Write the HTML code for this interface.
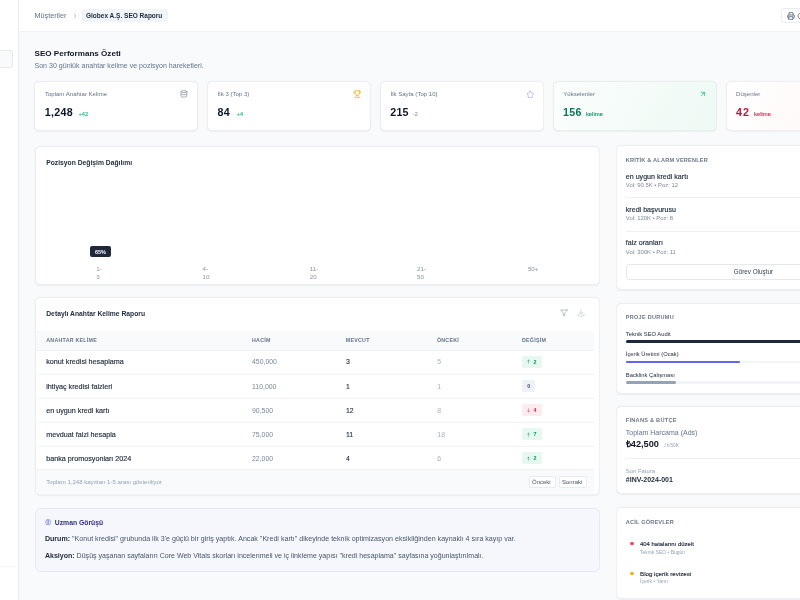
<!DOCTYPE html>
<html lang="tr"><head><meta charset="utf-8"><title>SEO Performans Özeti</title>
<style>
html,body{margin:0;padding:0}
body{width:800px;height:600px;overflow:hidden;position:relative;background:#f8fafc;font-family:"Liberation Sans",Arial,sans-serif;}
.t{position:absolute;white-space:nowrap;line-height:1;}
.b{position:absolute;}
.tx{position:absolute;left:0;top:0;width:800px;height:600px;will-change:transform;}
</style></head><body>
<div class="b" style="left:0px;top:0px;width:18px;height:600px;background:#fff;"></div>
<div class="b" style="left:18px;top:0px;width:1px;height:600px;background:#e8ecf1;"></div>
<div class="b" style="left:-10px;top:50.3px;width:22.5px;height:18.2px;background:#f8fafc;border:1px solid #e5e9ef;border-radius:3px;box-sizing:border-box;"></div>
<div class="b" style="left:0px;top:566px;width:16px;height:1px;background:#f1f4f7;"></div>
<div class="b" style="left:19px;top:0px;width:781px;height:30.5px;background:#fff;"></div>
<div class="b" style="left:19px;top:30.5px;width:781px;height:0.6px;background:#f0f2f5;"></div>
<svg class="b" style="left:72.5px;top:13px" width="4" height="6" viewBox="0 0 4 6"><path d="M1 0.8 L3 3 L1 5.2" fill="none" stroke="#a3adbb" stroke-width="0.75"/></svg>
<div class="b" style="left:82px;top:9px;width:85.6px;height:12.6px;background:#f1f5f9;border-radius:3px;"></div>
<div class="b" style="left:781.3px;top:8px;width:30px;height:14.7px;background:#fff;border:1px solid #e8ebef;border-radius:3px;box-sizing:border-box;"></div>
<svg class="b" style="left:786.5px;top:11.8px" width="8" height="8" viewBox="0 0 24 24" fill="none" stroke="#475569" stroke-width="2.2" stroke-linecap="round" stroke-linejoin="round"><path d="M6 9V2h12v7"/><path d="M6 18H4a2 2 0 0 1-2-2v-5a2 2 0 0 1 2-2h16a2 2 0 0 1 2 2v5a2 2 0 0 1-2 2h-2"/><rect x="6" y="14" width="12" height="8"/></svg>
<svg class="b" style="left:797px;top:11.8px" width="8" height="8" viewBox="0 0 24 24" fill="none" stroke="#475569" stroke-width="2.2" stroke-linecap="round" stroke-linejoin="round"><path d="M21 12a9 9 0 1 1-3-6.7"/></svg>
<div class="b" style="left:34.4px;top:80.6px;width:164px;height:50px;background:#fff;border:1px solid #eceef2;border-radius:5px;box-shadow:0 0.5px 1.5px rgba(15,23,42,0.05);box-sizing:border-box;background:#fff;border-color:#eceef2;"></div>
<div class="b" style="left:207.20000000000002px;top:80.6px;width:164px;height:50px;background:#fff;border:1px solid #eceef2;border-radius:5px;box-shadow:0 0.5px 1.5px rgba(15,23,42,0.05);box-sizing:border-box;background:#fff;border-color:#eceef2;"></div>
<div class="b" style="left:380.0px;top:80.6px;width:164px;height:50px;background:#fff;border:1px solid #eceef2;border-radius:5px;box-shadow:0 0.5px 1.5px rgba(15,23,42,0.05);box-sizing:border-box;background:#fff;border-color:#eceef2;"></div>
<div class="b" style="left:552.8000000000001px;top:80.6px;width:164px;height:50px;background:#fff;border:1px solid #eceef2;border-radius:5px;box-shadow:0 0.5px 1.5px rgba(15,23,42,0.05);box-sizing:border-box;background:linear-gradient(120deg,#fbfefd 0%,#eef9f4 100%);border-color:#e7eeeb;"></div>
<div class="b" style="left:725.6px;top:80.6px;width:164px;height:50px;background:#fff;border:1px solid #eceef2;border-radius:5px;box-shadow:0 0.5px 1.5px rgba(15,23,42,0.05);box-sizing:border-box;background:linear-gradient(120deg,#ffffff 0%,#fff4f5 100%);border-color:#f0eef0;"></div>
<svg class="b" style="left:180.3px;top:89.9px" width="7.8" height="7.8" viewBox="0 0 24 24" fill="none" stroke="#7d8798" stroke-width="2" stroke-linecap="round" stroke-linejoin="round"><ellipse cx="12" cy="5" rx="9" ry="3"/><path d="M3 5v14a9 3 0 0 0 18 0V5"/><path d="M3 12a9 3 0 0 0 18 0"/></svg>
<svg class="b" style="left:353px;top:89.6px" width="8.5" height="8.5" viewBox="0 0 24 24" fill="none" stroke="#eab308" stroke-width="1.9" stroke-linecap="round" stroke-linejoin="round"><path d="M6 9H4.5a2.5 2.5 0 0 1 0-5H6"/><path d="M18 9h1.5a2.5 2.5 0 0 0 0-5H18"/><path d="M4 22h16"/><path d="M10 14.66V17c0 .55-.47.98-.97 1.21C7.85 18.75 7 20.24 7 22"/><path d="M14 14.66V17c0 .55.47.98.97 1.21C16.15 18.75 17 20.24 17 22"/><path d="M18 2H6v7a6 6 0 0 0 12 0V2Z"/></svg>
<svg class="b" style="left:526px;top:90px" width="8.5" height="8.5" viewBox="0 0 24 24" fill="none" stroke="#9ea3ea" stroke-width="1.8" stroke-linecap="round" stroke-linejoin="round"><path d="M12 2.5 L15 8 L21 9.5 L18 15.5 L18 21 H6 L6 15.5 L3 9.5 L9 8 Z"/></svg>
<svg class="b" style="left:699.2px;top:90.1px" width="8" height="8" viewBox="0 0 24 24" fill="none" stroke="#10b981" stroke-width="2.2" stroke-linecap="round" stroke-linejoin="round"><path d="M7 17 17 7"/><path d="M7 7h10v10"/></svg>
<div class="b" style="left:34.5px;top:145.5px;width:565px;height:139.5px;background:#fff;border:1px solid #eceef2;border-radius:5px;box-shadow:0 0.5px 1.5px rgba(15,23,42,0.05);box-sizing:border-box;"></div>
<div class="b" style="left:90.1px;top:246px;width:20.8px;height:10.5px;background:#1e293b;border-radius:2px;"></div>
<div class="b" style="left:34.5px;top:296.5px;width:565px;height:198px;background:#fff;border:1px solid #eceef2;border-radius:5px;box-shadow:0 0.5px 1.5px rgba(15,23,42,0.05);box-sizing:border-box;overflow:hidden;"></div>
<svg class="b" style="left:559.5px;top:308.5px" width="8" height="8" viewBox="0 0 24 24" fill="none" stroke="#94a3b8" stroke-width="2" stroke-linecap="round" stroke-linejoin="round"><path d="M22 3H2l8 9.46V19l4 2v-8.54L22 3z"/></svg>
<svg class="b" style="left:577px;top:308.5px" width="8" height="8" viewBox="0 0 24 24" fill="none" stroke="#b8c2cf" stroke-width="2" stroke-linecap="round" stroke-linejoin="round"><path d="M21 15v4a2 2 0 0 1-2 2H5a2 2 0 0 1-2-2v-4"/><path d="M7 10l5 5 5-5"/><path d="M12 15V3"/></svg>
<div class="b" style="left:35.5px;top:330.5px;width:558.5px;height:19.5px;background:#f8fafc;"></div>
<div class="b" style="left:35.5px;top:350px;width:558.5px;height:0.8px;background:#eef1f5;"></div>
<div class="b" style="left:521.8px;top:356.1px;width:20.2px;height:11.6px;background:#e6f8ef;border-radius:2px;"></div>
<svg class="b" style="left:526.3px;top:359.40px;" width="5" height="5" viewBox="0 0 24 24" fill="none" stroke="#059669" stroke-width="2.1" stroke-linecap="round" stroke-linejoin="round"><path d="M12 20V5"/><path d="M6 11l6-6 6 6"/></svg>
<div class="b" style="left:35.5px;top:374.05px;width:558.5px;height:0.7px;background:#f0f3f6;"></div>
<div class="b" style="left:521.8px;top:380.15000000000003px;width:12.8px;height:11.6px;background:#eef1f5;border-radius:2px;"></div>
<div class="b" style="left:35.5px;top:398.1px;width:558.5px;height:0.7px;background:#f0f3f6;"></div>
<div class="b" style="left:521.8px;top:404.20000000000005px;width:20.2px;height:11.6px;background:#fdecee;border-radius:2px;"></div>
<svg class="b" style="left:526.3px;top:407.50px;transform:rotate(180deg);" width="5" height="5" viewBox="0 0 24 24" fill="none" stroke="#e11d48" stroke-width="2.1" stroke-linecap="round" stroke-linejoin="round"><path d="M12 20V5"/><path d="M6 11l6-6 6 6"/></svg>
<div class="b" style="left:35.5px;top:422.15px;width:558.5px;height:0.7px;background:#f0f3f6;"></div>
<div class="b" style="left:521.8px;top:428.25px;width:20.2px;height:11.6px;background:#e6f8ef;border-radius:2px;"></div>
<svg class="b" style="left:526.3px;top:431.55px;" width="5" height="5" viewBox="0 0 24 24" fill="none" stroke="#059669" stroke-width="2.1" stroke-linecap="round" stroke-linejoin="round"><path d="M12 20V5"/><path d="M6 11l6-6 6 6"/></svg>
<div class="b" style="left:35.5px;top:446.2px;width:558.5px;height:0.7px;background:#f0f3f6;"></div>
<div class="b" style="left:521.8px;top:452.3px;width:20.2px;height:11.6px;background:#e6f8ef;border-radius:2px;"></div>
<svg class="b" style="left:526.3px;top:455.60px;" width="5" height="5" viewBox="0 0 24 24" fill="none" stroke="#059669" stroke-width="2.1" stroke-linecap="round" stroke-linejoin="round"><path d="M12 20V5"/><path d="M6 11l6-6 6 6"/></svg>
<div class="b" style="left:35.5px;top:469.4px;width:558.5px;height:24px;background:#f8fafc;"></div>
<div class="b" style="left:35.5px;top:469.4px;width:558.5px;height:0.8px;background:#eef1f5;"></div>
<div class="b" style="left:528.5px;top:476.2px;width:27px;height:11.8px;background:#fff;border:1px solid #e8ebef;border-radius:2px;box-sizing:border-box;"></div>
<div class="b" style="left:558.5px;top:476.2px;width:28.4px;height:11.8px;background:#fff;border:1px solid #e8ebef;border-radius:2px;box-sizing:border-box;"></div>
<div class="b" style="left:34.5px;top:507.5px;width:565px;height:64px;background:#f5f7fd;border:1px solid #e4e9f5;border-radius:6px;box-sizing:border-box;"></div>
<svg class="b" style="left:44.8px;top:519.4px" width="6.2" height="6.2" viewBox="0 0 24 24" fill="none" stroke="#6366f1" stroke-width="2.4" stroke-linecap="round" stroke-linejoin="round"><path d="M12 5a3 3 0 1 0-5.997.125 4 4 0 0 0-2.526 5.77 4 4 0 0 0 .556 6.588A4 4 0 1 0 12 18Z"/><path d="M12 5a3 3 0 1 1 5.997.125 4 4 0 0 1 2.526 5.77 4 4 0 0 1-.556 6.588A4 4 0 1 1 12 18Z"/></svg>
<div class="b" style="left:615.8px;top:145.4px;width:273.5px;height:144.5px;background:#fff;border:1px solid #eceef2;border-radius:5px;box-shadow:0 0.5px 1.5px rgba(15,23,42,0.05);box-sizing:border-box;"></div>
<div class="b" style="left:625.8px;top:197.4px;width:253.5px;height:0.8px;background:#eef1f5;"></div>
<div class="b" style="left:625.8px;top:230.60000000000002px;width:253.5px;height:0.8px;background:#eef1f5;"></div>
<div class="b" style="left:626.4px;top:264.2px;width:252.5px;height:16.3px;background:#fff;border:1px solid #e6e8ec;border-radius:3px;box-sizing:border-box;"></div>
<div class="b" style="left:615.8px;top:302.6px;width:273.5px;height:91.4px;background:#fff;border:1px solid #eceef2;border-radius:5px;box-shadow:0 0.5px 1.5px rgba(15,23,42,0.05);box-sizing:border-box;"></div>
<div class="b" style="left:625.8px;top:340.3px;width:253.5px;height:2.5px;background:#f1f5f9;border-radius:2px;"></div>
<div class="b" style="left:625.8px;top:340.3px;width:253.5px;height:2.5px;background:#1e293b;border-radius:2px;"></div>
<div class="b" style="left:625.8px;top:360.8px;width:253.5px;height:2.5px;background:#f1f5f9;border-radius:2px;"></div>
<div class="b" style="left:625.8px;top:360.8px;width:114.075px;height:2.5px;background:#6366f1;border-radius:2px;"></div>
<div class="b" style="left:625.8px;top:381.3px;width:253.5px;height:2.5px;background:#f1f5f9;border-radius:2px;"></div>
<div class="b" style="left:625.8px;top:381.3px;width:50.7px;height:2.5px;background:#94a3b8;border-radius:2px;"></div>
<div class="b" style="left:615.8px;top:405.5px;width:273.5px;height:88.75px;background:#fff;border:1px solid #eceef2;border-radius:5px;box-shadow:0 0.5px 1.5px rgba(15,23,42,0.05);box-sizing:border-box;"></div>
<div class="b" style="left:625.8px;top:458px;width:253.5px;height:0.8px;background:#eef1f5;"></div>
<div class="b" style="left:615.8px;top:506.5px;width:273.5px;height:92px;background:#fff;border:1px solid #eceef2;border-radius:5px;box-shadow:0 0.5px 1.5px rgba(15,23,42,0.05);box-sizing:border-box;"></div>
<div class="b" style="left:630px;top:541.8px;width:3.6px;height:3.6px;background:#f43f5e;border-radius:50%;"></div>
<div class="b" style="left:630px;top:571.5px;width:3.6px;height:3.6px;background:#eab308;border-radius:50%;"></div>
<div class="tx">
<span class="t" style="left:34.40px;top:12px;font-size:7.3px;font-weight:400;color:#64748b;">Müşteriler</span>
<span class="t" style="left:86.00px;top:13px;font-size:6.5px;font-weight:700;color:#1e293b;">Globex A.Ş. SEO Raporu</span>
<span class="t" style="left:34.50px;top:50px;font-size:8.1px;font-weight:700;color:#0f172a;">SEO Performans Özeti</span>
<span class="t" style="left:34.50px;top:62px;font-size:7.05px;font-weight:400;color:#64748b;">Son 30 günlük anahtar kelime ve pozisyon hareketleri.</span>
<span class="t" style="left:44.90px;top:91px;font-size:6.05px;font-weight:400;color:#64748b;">Toplam Anahtar Kelime</span>
<span class="t" style="left:44.70px;top:107px;font-size:10.7px;font-weight:700;color:#0f172a;letter-spacing:0.3px;">1,248</span>
<span class="t" style="left:78.60px;top:112px;font-size:5.6px;font-weight:400;color:#10b981;-webkit-text-stroke:0.12px #10b981;">+42</span>
<span class="t" style="left:217.70px;top:91px;font-size:6.05px;font-weight:400;color:#64748b;">İlk 3 (Top 3)</span>
<span class="t" style="left:217.50px;top:107px;font-size:10.7px;font-weight:700;color:#0f172a;letter-spacing:0.4px;">84</span>
<span class="t" style="left:236.80px;top:112px;font-size:5.6px;font-weight:400;color:#10b981;-webkit-text-stroke:0.12px #10b981;">+4</span>
<span class="t" style="left:390.50px;top:91px;font-size:6.05px;font-weight:400;color:#64748b;">İlk Sayfa (Top 10)</span>
<span class="t" style="left:390.30px;top:107px;font-size:10.7px;font-weight:700;color:#0f172a;letter-spacing:0.2px;">215</span>
<span class="t" style="left:412.80px;top:112px;font-size:5.6px;font-weight:400;color:#94a3b8;-webkit-text-stroke:0.12px #94a3b8;">-2</span>
<span class="t" style="left:563.30px;top:91px;font-size:6.05px;font-weight:400;color:#64748b;">Yükselenler</span>
<span class="t" style="left:563.10px;top:107px;font-size:10.7px;font-weight:700;color:#047857;letter-spacing:0.2px;">156</span>
<span class="t" style="left:585.90px;top:112px;font-size:5.9px;font-weight:400;color:#059669;-webkit-text-stroke:0.12px #059669;">kelime</span>
<span class="t" style="left:736.10px;top:91px;font-size:6.05px;font-weight:400;color:#64748b;">Düşenler</span>
<span class="t" style="left:735.90px;top:107px;font-size:10.7px;font-weight:700;color:#be123c;letter-spacing:1.2px;">42</span>
<span class="t" style="left:754.00px;top:112px;font-size:5.9px;font-weight:400;color:#e11d48;-webkit-text-stroke:0.12px #e11d48;">kelime</span>
<span class="t" style="left:46.20px;top:160px;font-size:6.75px;font-weight:700;color:#1e293b;">Pozisyon Değişim Dağılımı</span>
<span class="t" style="left:95.10px;top:250px;font-size:5.4px;font-weight:700;color:#fff;">65%</span>
<span class="t" style="left:96.25px;top:266px;font-size:6.2px;font-weight:400;color:#8794a7;">1-</span>
<span class="t" style="left:96.25px;top:274px;font-size:6.2px;font-weight:400;color:#8794a7;">3</span>
<span class="t" style="left:202.50px;top:266px;font-size:6.2px;font-weight:400;color:#8794a7;">4-</span>
<span class="t" style="left:202.50px;top:274px;font-size:6.2px;font-weight:400;color:#8794a7;">10</span>
<span class="t" style="left:309.75px;top:266px;font-size:6.2px;font-weight:400;color:#8794a7;">11-</span>
<span class="t" style="left:309.75px;top:274px;font-size:6.2px;font-weight:400;color:#8794a7;">20</span>
<span class="t" style="left:417.00px;top:266px;font-size:6.2px;font-weight:400;color:#8794a7;">21-</span>
<span class="t" style="left:417.00px;top:274px;font-size:6.2px;font-weight:400;color:#8794a7;">50</span>
<span class="t" style="left:527.90px;top:266px;font-size:6.2px;font-weight:400;color:#8794a7;">50+</span>
<span class="t" style="left:46.25px;top:311px;font-size:6.75px;font-weight:700;color:#1e293b;">Detaylı Anahtar Kelime Raporu</span>
<span class="t" style="left:46.25px;top:338px;font-size:5.3px;font-weight:700;color:#64748b;letter-spacing:0.25px;">ANAHTAR KELİME</span>
<span class="t" style="left:252.00px;top:338px;font-size:5.3px;font-weight:700;color:#64748b;letter-spacing:0.25px;">HACİM</span>
<span class="t" style="left:345.75px;top:338px;font-size:5.3px;font-weight:700;color:#64748b;letter-spacing:0.25px;">MEVCUT</span>
<span class="t" style="left:436.90px;top:338px;font-size:5.3px;font-weight:700;color:#64748b;letter-spacing:0.25px;">ÖNCEKİ</span>
<span class="t" style="left:522.00px;top:338px;font-size:5.3px;font-weight:700;color:#64748b;letter-spacing:0.25px;">DEĞİŞİM</span>
<span class="t" style="left:46.25px;top:358px;font-size:7.2px;font-weight:400;color:#1e293b;-webkit-text-stroke:0.15px #1e293b;">konut kredisi hesaplama</span>
<span class="t" style="left:252.00px;top:359px;font-size:6.9px;font-weight:400;color:#7a879a;">450,000</span>
<span class="t" style="left:346.00px;top:359px;font-size:6.9px;font-weight:400;color:#1e293b;-webkit-text-stroke:0.12px #1e293b;">3</span>
<span class="t" style="left:437.30px;top:359px;font-size:6.9px;font-weight:400;color:#a7b1bf;">5</span>
<span class="t" style="left:533.60px;top:360px;font-size:5.4px;font-weight:700;color:#059669;">2</span>
<span class="t" style="left:46.25px;top:383px;font-size:7.2px;font-weight:400;color:#1e293b;-webkit-text-stroke:0.15px #1e293b;">ihtiyaç kredisi faizleri</span>
<span class="t" style="left:252.00px;top:384px;font-size:6.9px;font-weight:400;color:#7a879a;">110,000</span>
<span class="t" style="left:346.00px;top:384px;font-size:6.9px;font-weight:400;color:#1e293b;-webkit-text-stroke:0.12px #1e293b;">1</span>
<span class="t" style="left:437.30px;top:384px;font-size:6.9px;font-weight:400;color:#a7b1bf;">1</span>
<span class="t" style="left:527.30px;top:384px;font-size:5.4px;font-weight:700;color:#475569;">0</span>
<span class="t" style="left:46.25px;top:407px;font-size:7.2px;font-weight:400;color:#1e293b;-webkit-text-stroke:0.15px #1e293b;">en uygun kredi kartı</span>
<span class="t" style="left:252.00px;top:408px;font-size:6.9px;font-weight:400;color:#7a879a;">90,500</span>
<span class="t" style="left:346.00px;top:408px;font-size:6.9px;font-weight:400;color:#1e293b;-webkit-text-stroke:0.12px #1e293b;">12</span>
<span class="t" style="left:437.30px;top:408px;font-size:6.9px;font-weight:400;color:#a7b1bf;">8</span>
<span class="t" style="left:533.60px;top:408px;font-size:5.4px;font-weight:700;color:#e11d48;">4</span>
<span class="t" style="left:46.25px;top:431px;font-size:7.2px;font-weight:400;color:#1e293b;-webkit-text-stroke:0.15px #1e293b;">mevduat faizi hesapla</span>
<span class="t" style="left:252.00px;top:432px;font-size:6.9px;font-weight:400;color:#7a879a;">75,000</span>
<span class="t" style="left:346.00px;top:432px;font-size:6.9px;font-weight:400;color:#1e293b;-webkit-text-stroke:0.12px #1e293b;">11</span>
<span class="t" style="left:437.30px;top:432px;font-size:6.9px;font-weight:400;color:#a7b1bf;">18</span>
<span class="t" style="left:533.60px;top:432px;font-size:5.4px;font-weight:700;color:#059669;">7</span>
<span class="t" style="left:46.25px;top:455px;font-size:7.2px;font-weight:400;color:#1e293b;-webkit-text-stroke:0.15px #1e293b;">banka promosyonları 2024</span>
<span class="t" style="left:252.00px;top:456px;font-size:6.9px;font-weight:400;color:#7a879a;">22,000</span>
<span class="t" style="left:346.00px;top:456px;font-size:6.9px;font-weight:400;color:#1e293b;-webkit-text-stroke:0.12px #1e293b;">4</span>
<span class="t" style="left:437.30px;top:456px;font-size:6.9px;font-weight:400;color:#a7b1bf;">6</span>
<span class="t" style="left:533.60px;top:456px;font-size:5.4px;font-weight:700;color:#059669;">2</span>
<span class="t" style="left:46.25px;top:479px;font-size:6.05px;font-weight:400;color:#94a3b8;">Toplam 1,248 kayıttan 1-5 arası gösteriliyor</span>
<span class="t" style="left:532.00px;top:479px;font-size:6.0px;font-weight:400;color:#475569;">Önceki</span>
<span class="t" style="left:562.00px;top:479px;font-size:6.0px;font-weight:400;color:#475569;">Sonraki</span>
<span class="t" style="left:54.80px;top:520px;font-size:6.8px;font-weight:700;color:#312e81;">Uzman Görüşü</span>
<span class="t" style="left:44.90px;top:536px;font-size:7.1px;font-weight:400;color:#475569;"><b style="color:#1e293b">Durum:</b> "Konut kredisi" grubunda ilk 3'e güçlü bir giriş yaptık. Ancak "Kredi kartı" dikeyinde teknik optimizasyon eksikliğinden kaynaklı 4 sıra kayıp var.</span>
<span class="t" style="left:44.90px;top:552px;font-size:7.05px;font-weight:400;color:#475569;"><b style="color:#1e293b">Aksiyon:</b> Düşüş yaşanan sayfaların Core Web Vitals skorları incelenmeli ve iç linkleme yapısı "kredi hesaplama" sayfasına yoğunlaştırılmalı.</span>
<span class="t" style="left:625.80px;top:158px;font-size:5.6px;font-weight:700;color:#6b7789;letter-spacing:0.19px;">KRİTİK &amp; ALARM VERENLER</span>
<span class="t" style="left:625.80px;top:174px;font-size:7.1px;font-weight:400;color:#1e293b;-webkit-text-stroke:0.15px #1e293b;">en uygun kredi kartı</span>
<span class="t" style="left:625.80px;top:183px;font-size:5.9px;font-weight:400;color:#7d8899;">Vol: 90.5K • Poz: 12</span>
<span class="t" style="left:625.80px;top:207px;font-size:7.1px;font-weight:400;color:#1e293b;-webkit-text-stroke:0.15px #1e293b;">kredi başvurusu</span>
<span class="t" style="left:625.80px;top:216px;font-size:5.9px;font-weight:400;color:#7d8899;">Vol: 120K • Poz: 8</span>
<span class="t" style="left:625.80px;top:240px;font-size:7.1px;font-weight:400;color:#1e293b;-webkit-text-stroke:0.15px #1e293b;">faiz oranları</span>
<span class="t" style="left:625.80px;top:250px;font-size:5.9px;font-weight:400;color:#7d8899;">Vol: 300K • Poz: 11</span>
<span class="t" style="left:733.80px;top:269px;font-size:6.3px;font-weight:400;color:#334155;">Görev Oluştur</span>
<span class="t" style="left:625.80px;top:315px;font-size:5.5px;font-weight:700;color:#6b7789;letter-spacing:0.3px;">PROJE DURUMU</span>
<span class="t" style="left:625.80px;top:332px;font-size:5.8px;font-weight:400;color:#1e293b;">Teknik SEO Audit</span>
<span class="t" style="left:625.80px;top:352px;font-size:5.8px;font-weight:400;color:#1e293b;">İçerik Üretimi (Ocak)</span>
<span class="t" style="left:625.80px;top:373px;font-size:5.8px;font-weight:400;color:#1e293b;">Backlink Çalışması</span>
<span class="t" style="left:625.80px;top:418px;font-size:5.6px;font-weight:700;color:#6b7789;letter-spacing:0.26px;">FİNANS &amp; BÜTÇE</span>
<span class="t" style="left:625.80px;top:429px;font-size:7px;font-weight:400;color:#64748b;">Toplam Harcama (Ads)</span>
<span class="t" style="left:625.80px;top:440px;font-size:9.2px;font-weight:700;color:#0f172a;">₺42,500</span>
<span class="t" style="left:664.50px;top:443px;font-size:5px;font-weight:400;color:#94a3b8;">/ ₺50K</span>
<span class="t" style="left:625.80px;top:469px;font-size:5.9px;font-weight:400;color:#94a3b8;">Son Fatura</span>
<span class="t" style="left:625.80px;top:476px;font-size:7px;font-weight:700;color:#1e293b;">#INV-2024-001</span>
<span class="t" style="left:625.80px;top:520px;font-size:5.6px;font-weight:700;color:#6b7789;letter-spacing:0.17px;">ACİL GÖREVLER</span>
<span class="t" style="left:640.00px;top:542px;font-size:5.95px;font-weight:400;color:#1e293b;-webkit-text-stroke:0.15px #1e293b;">404 hatalarını düzelt</span>
<span class="t" style="left:640.00px;top:550px;font-size:5px;font-weight:400;color:#94a3b8;">Teknik SEO • Bugün</span>
<span class="t" style="left:640.00px;top:571px;font-size:6.2px;font-weight:400;color:#1e293b;-webkit-text-stroke:0.15px #1e293b;">Blog içerik revizesi</span>
<span class="t" style="left:640.00px;top:579px;font-size:5px;font-weight:400;color:#94a3b8;">İçerik • Yarın</span>
</div>
</body></html>
